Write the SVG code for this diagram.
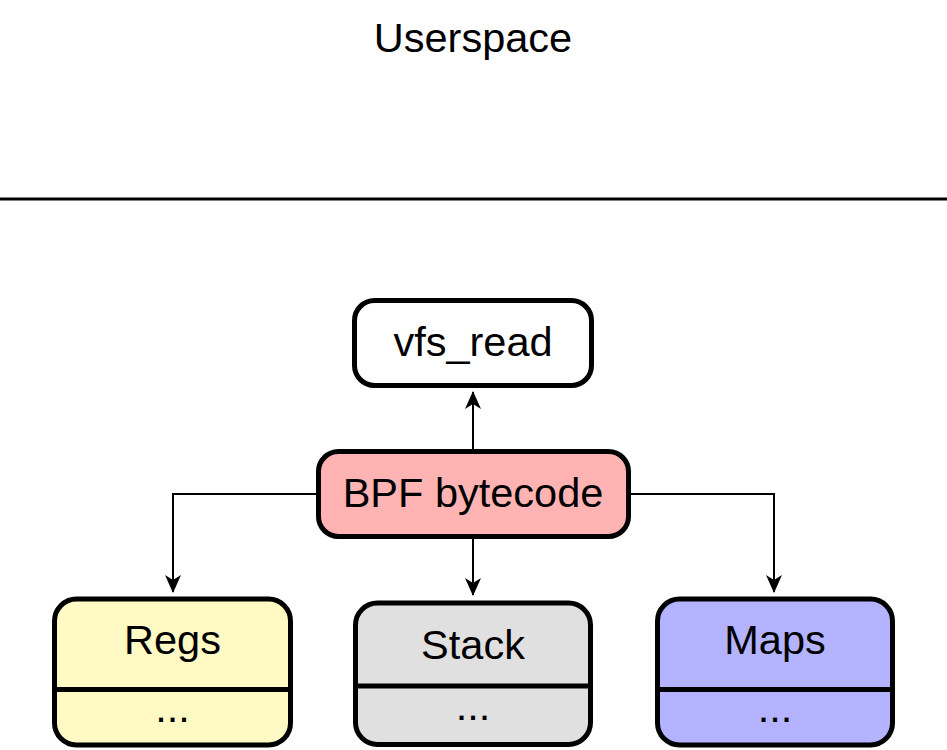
<svg xmlns="http://www.w3.org/2000/svg" width="947" height="750" viewBox="0 0 947 750">
<defs>
<style>
text{font-family:"Liberation Sans",Arial,sans-serif;font-size:41.5px;fill:#000;text-anchor:middle}
.box{stroke:#000;stroke-width:5}
.div{stroke:#000;stroke-width:5}
.conn{fill:none;stroke:#000;stroke-width:2}
</style>
<marker id="arr" viewBox="0 0 18 16" refX="17" refY="8" markerWidth="18" markerHeight="16" markerUnits="userSpaceOnUse" orient="auto">
<path d="M0,0 L18,8 L0,16 L5,8 Z" fill="#000"/>
</marker>
</defs>
<rect width="947" height="750" fill="#fff"/>
<g id="userspace">
<text x="473" y="52">Userspace</text>
<line x1="0" y1="199" x2="947" y2="199" stroke="#000" stroke-width="3"/>
</g>
<g id="connectors">
<path class="conn" d="M473,451 L473,392" marker-end="url(#arr)"/>
<path class="conn" d="M318,494 L173,494 L173,592" marker-end="url(#arr)"/>
<path class="conn" d="M629,494 L774,494 L774,592" marker-end="url(#arr)"/>
<path class="conn" d="M473,537 L473,595" marker-end="url(#arr)"/>
</g>
<g id="vfs_read">
<rect class="box" x="354.5" y="300.5" width="237" height="85" rx="20" fill="#fff"/>
<text x="473" y="356">vfs_read</text>
</g>
<g id="bpf">
<rect class="box" x="318.5" y="451.5" width="310" height="85" rx="20" fill="#ffb3b3"/>
<text x="473" y="507">BPF bytecode</text>
</g>
<g id="regs">
<rect class="box" x="54.5" y="599" width="236" height="146" rx="22" fill="#fff9c4"/>
<line class="div" x1="54.5" y1="689.5" x2="290.5" y2="689.5"/>
<text x="172.5" y="654">Regs</text>
<text x="172.5" y="722">...</text>
</g>
<g id="stack">
<rect class="box" x="355.5" y="603" width="235" height="141.5" rx="22" fill="#e0e0e0"/>
<line class="div" x1="355.5" y1="686" x2="590.5" y2="686"/>
<text x="473" y="659">Stack</text>
<text x="473" y="720">...</text>
</g>
<g id="maps">
<rect class="box" x="657.5" y="599" width="235" height="146" rx="22" fill="#b3b3ff"/>
<line class="div" x1="657.5" y1="689.5" x2="892.5" y2="689.5"/>
<text x="775" y="654">Maps</text>
<text x="775" y="722">...</text>
</g>
</svg>
